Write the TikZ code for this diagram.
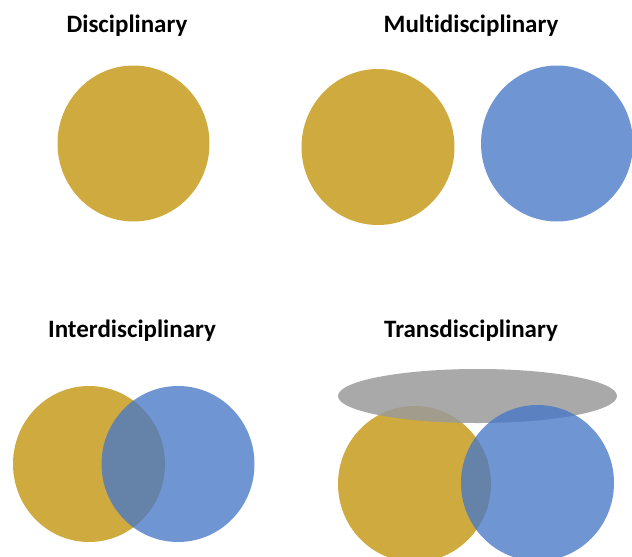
\documentclass[tikz,border=0pt]{standalone}
\usepackage{fontspec}
\setmainfont{Carlito}[Ligatures=NoCommon]
\usetikzlibrary{positioning}
\definecolor{gold}{HTML}{CFAB3F}
\definecolor{steel}{HTML}{4877C7}
\definecolor{haze}{HTML}{9A9A9A}

\begin{document}
\begin{tikzpicture}[
  x=1pt, y=-1pt,
  title/.style={font=\bfseries\fontsize{25}{30}\selectfont, anchor=base},
  gold disc/.style={fill=gold},
  blue disc/.style={fill=steel, fill opacity=0.78},
  haze disc/.style={fill=haze, fill opacity=0.85}
]
  \useasboundingbox (0,0) rectangle (632,557);
  \clip (0,0) rectangle (632,557);

  % headings
  \node[title] (disc)  at (127,32)  {Disciplinary};
  \node[title] (multi) at (471,32)  {Multidisciplinary};
  \node[title] (inter) at (132,337) {Interdisciplinary};
  \node[title] (trans) at (471,337) {Transdisciplinary};

  % one field
  \fill[gold disc] (133.5,143.5) ellipse [x radius=76, y radius=78];

  % side by side
  \fill[gold disc] (378,147)   ellipse [x radius=76.5, y radius=78];
  \fill[blue disc] (557,143.5) ellipse [x radius=76, y radius=78];

  % overlapping
  \fill[gold disc] (89,464)  ellipse [x radius=76, y radius=78];
  \fill[blue disc] (178,464) ellipse [x radius=76.5, y radius=78];

  % overlapping, under a shared frame
  \fill[gold disc] (414.5,484) ellipse [x radius=76.5, y radius=78];
  \fill[haze disc] (477.5,396) ellipse [x radius=139.5, y radius=27];
  \fill[blue disc] (537.5,483) ellipse [x radius=76.5, y radius=78];
\end{tikzpicture}
\end{document}
